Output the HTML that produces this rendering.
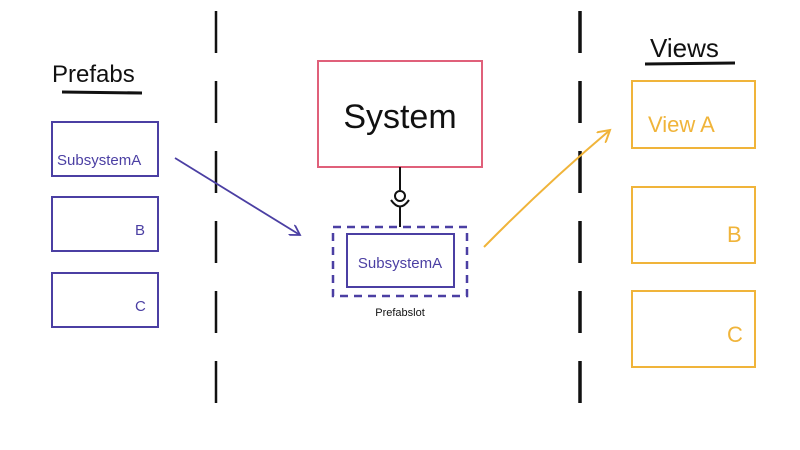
<!DOCTYPE html>
<html><head><style>body{margin:0;background:#fff}svg{display:block}</style></head><body>
<svg width="800" height="450" viewBox="0 0 800 450" xmlns="http://www.w3.org/2000/svg" font-family="Liberation Sans, sans-serif">
<defs>
<marker id="ap" markerWidth="12" markerHeight="12" refX="10" refY="6" orient="auto" markerUnits="userSpaceOnUse"><path d="M0,0 L10,6 L0,12" fill="none" stroke="#4b3fa3" stroke-width="1.8"/></marker>
<marker id="ay" markerWidth="14" markerHeight="14" refX="12" refY="7" orient="auto" markerUnits="userSpaceOnUse"><path d="M0,0 L12,7 L0,14" fill="none" stroke="#f0b43a" stroke-width="2"/></marker>
</defs>
<line x1="216" y1="11" x2="216" y2="420" stroke="#111" stroke-width="2.5" stroke-dasharray="42,28"/>
<line x1="580" y1="11" x2="580" y2="425" stroke="#111" stroke-width="3.5" stroke-dasharray="42,28"/>
<text x="52" y="82" font-size="24" fill="#111">Prefabs</text>
<line x1="62" y1="92" x2="142" y2="93" stroke="#111" stroke-width="3"/>
<g fill="none" stroke="#4b3fa3" stroke-width="2">
<rect x="52" y="122" width="106" height="54"/>
<rect x="52" y="197" width="106" height="54"/>
<rect x="52" y="273" width="106" height="54"/>
</g>
<g fill="#4b3fa3" font-size="15">
<text x="57" y="165">SubsystemA</text>
<text x="135" y="235">B</text>
<text x="135" y="311">C</text>
</g>
<line x1="175" y1="158" x2="300" y2="235" stroke="#4b3fa3" stroke-width="1.8" marker-end="url(#ap)"/>
<rect x="318" y="61" width="164" height="106" fill="none" stroke="#e0607a" stroke-width="2"/>
<text x="400" y="128" font-size="34" text-anchor="middle" fill="#111">System</text>
<line x1="400" y1="167" x2="400" y2="190" stroke="#111" stroke-width="2"/>
<circle cx="400" cy="196" r="5" fill="none" stroke="#111" stroke-width="2"/>
<path d="M391,200 Q400,213 409,200" fill="none" stroke="#111" stroke-width="2"/>
<line x1="400" y1="207" x2="400" y2="227" stroke="#111" stroke-width="2"/>
<rect x="333" y="227" width="134" height="69" fill="none" stroke="#4b3fa3" stroke-width="2.5" stroke-dasharray="8,6"/>
<rect x="347" y="234" width="107" height="53" fill="none" stroke="#4b3fa3" stroke-width="2"/>
<text x="400" y="268" font-size="15" text-anchor="middle" fill="#4b3fa3">SubsystemA</text>
<text x="400" y="316" font-size="11" text-anchor="middle" fill="#111">Prefabslot</text>
<path d="M484,247 Q545,185 610,130" fill="none" stroke="#f0b43a" stroke-width="2" marker-end="url(#ay)"/>
<text x="650" y="57" font-size="26" fill="#111">Views</text>
<line x1="645" y1="64" x2="735" y2="63" stroke="#111" stroke-width="3"/>
<g fill="none" stroke="#f0b43a" stroke-width="2">
<rect x="632" y="81" width="123" height="67"/>
<rect x="632" y="187" width="123" height="76"/>
<rect x="632" y="291" width="123" height="76"/>
</g>
<g fill="#f0b43a" font-size="22">
<text x="648" y="132">View A</text>
<text x="727" y="242">B</text>
<text x="727" y="342">C</text>
</g>
</svg>
</body></html>
